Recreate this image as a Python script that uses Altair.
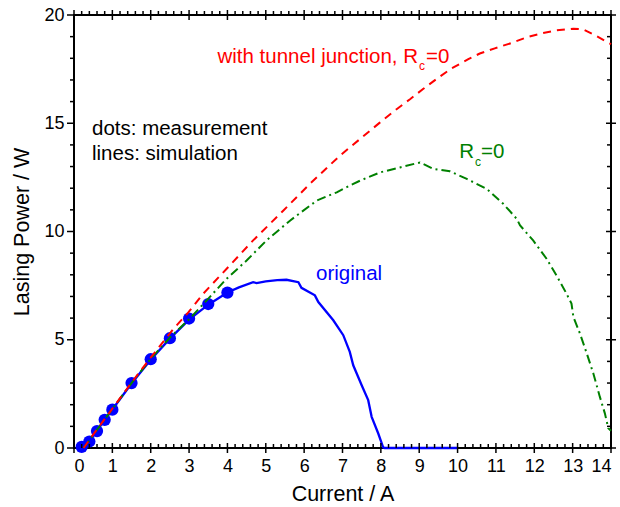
import altair as alt
import pandas as pd
import numpy as np

# ---------------- data ----------------
meas_x = [0.2, 0.4, 0.6, 0.8, 1.0, 1.5, 2.0, 2.5, 3.0, 3.5, 4.0]
meas_y = [0.05, 0.30, 0.78, 1.30, 1.77, 3.00, 4.10, 5.07, 5.98, 6.65, 7.18]

orig_x = [0.18, 0.4, 0.6, 0.8, 1.0, 1.5, 2.0, 2.5, 3.0, 3.5, 4.0, 4.3, 4.67, 4.76,
          5.0, 5.3, 5.54, 5.85, 5.93, 6.28, 6.37, 6.76, 7.02, 7.19, 7.28, 7.5,
          7.67, 7.76, 7.93, 8.06, 8.1, 10.0]
orig_y = [0.0, 0.33, 0.80, 1.30, 1.78, 2.98, 4.08, 5.05, 5.93, 6.62, 7.18, 7.42, 7.66, 7.62,
          7.70, 7.75, 7.77, 7.66, 7.40, 7.05, 6.74, 5.90, 5.21, 4.44, 3.82, 2.90,
          2.21, 1.44, 0.68, 0.03, 0.0, 0.0]

tunnel_x = [0.25, 0.5, 1.0, 1.5, 2.0, 2.59, 2.98, 3.37, 3.98, 4.67, 5.46, 6.15, 6.93,
            7.98, 8.41, 8.76, 9.1, 9.5, 9.85, 10.28, 10.58, 10.97, 11.41, 11.8,
            12.23, 12.58, 13.02, 13.28, 13.62, 13.93, 14.0]
tunnel_y = [0.0, 0.62, 1.82, 3.02, 4.18, 5.50, 6.26, 7.13, 8.28, 9.59, 10.97, 12.2, 13.5,
            15.04, 15.65, 16.11, 16.58, 17.11, 17.54, 17.96, 18.22, 18.46, 18.71, 18.97,
            19.17, 19.29, 19.37, 19.33, 19.03, 18.72, 18.65]

rc_x = [0.25, 0.5, 1.0, 1.5, 2.0, 2.5, 3.02, 3.46, 3.98, 4.5, 5.02, 5.63, 6.33, 6.85,
        7.02, 7.46, 7.98, 8.5, 9.02, 9.37, 9.8, 10.24, 10.76, 11.19, 11.54, 11.63,
        11.97, 12.32, 12.58, 12.84, 12.97, 13.02, 13.19, 13.37, 13.54, 13.71, 13.84,
        13.93, 14.0]
rc_y = [0.0, 0.60, 1.80, 3.00, 4.12, 5.10, 5.98, 6.82, 7.82, 8.66, 9.59, 10.5, 11.43, 11.81,
        11.97, 12.35, 12.73, 12.96, 13.19, 12.89, 12.78, 12.43, 11.97, 11.28, 10.59, 10.28,
        9.59, 8.74, 7.97, 7.13, 6.67, 6.05, 5.29, 4.36, 3.44, 2.36, 1.60,
        0.91, 0.80]

x_major = list(range(0, 15))
x_minor = [round(v, 1) for v in np.arange(0.2, 14.0, 0.2) if abs(v - round(v)) > 1e-6]
y_major = [0, 5, 10, 15, 20]
y_minor = [v for v in range(1, 20) if v % 5]

# ---------------- layout ----------------
W, H = 537, 433
FONT = "Liberation Sans"

X = alt.X("x:Q", scale=alt.Scale(domain=[0, 14], nice=False, zero=False),
          axis=alt.Axis(title="Current / A", values=x_major, ticks=False, domain=False,
                        grid=False, labelPadding=9, titlePadding=8, format="d"))
Y = alt.Y("y:Q", scale=alt.Scale(domain=[0, 20], nice=False, zero=False),
          axis=alt.Axis(title="Lasing Power / W", values=y_major, ticks=False, domain=False,
                        grid=False, labelPadding=10, titlePadding=10, format="d"))

orig_df = pd.DataFrame({"x": orig_x, "y": orig_y})
meas_df = pd.DataFrame({"x": meas_x, "y": meas_y})
tun_df = pd.DataFrame({"x": tunnel_x, "y": tunnel_y})
rc_df = pd.DataFrame({"x": rc_x, "y": rc_y})

blue = "#0000FF"
red = "#FF0000"
green = "#008000"

line_orig = alt.Chart(orig_df).mark_line(color=blue, strokeWidth=2.3).encode(x=X, y=Y)
dots = alt.Chart(meas_df).mark_circle(color=blue, size=150, opacity=1).encode(x=X, y=Y)
line_rc = alt.Chart(rc_df).mark_line(color=green, strokeWidth=2,
                                      strokeDash=[9, 4, 2, 4]).encode(x=X, y=Y)
line_tun = alt.Chart(tun_df).mark_line(color=red, strokeWidth=2,
                                        strokeDash=[8, 6]).encode(x=X, y=Y)

# ---------------- ticks ----------------
xM = pd.DataFrame({"x": x_major})
xm = pd.DataFrame({"x": x_minor})
yM = pd.DataFrame({"y": y_major})
ym = pd.DataFrame({"y": y_minor})
tk = dict(color="black", strokeWidth=1.5)

ticks = [
    alt.Chart(xM).mark_rule(**tk).encode(x=X, y=alt.value(H - 5), y2=alt.value(H + 5)),
    alt.Chart(xm).mark_rule(**tk).encode(x=X, y=alt.value(H - 4), y2=alt.value(H)),
    alt.Chart(xM).mark_rule(**tk).encode(x=X, y=alt.value(-5), y2=alt.value(5)),
    alt.Chart(xm).mark_rule(**tk).encode(x=X, y=alt.value(-4), y2=alt.value(0)),
    alt.Chart(yM).mark_rule(**tk).encode(y=Y, x=alt.value(-7), x2=alt.value(0)),
    alt.Chart(ym).mark_rule(**tk).encode(y=Y, x=alt.value(-4), x2=alt.value(0)),
    alt.Chart(yM).mark_rule(**tk).encode(y=Y, x=alt.value(W - 5), x2=alt.value(W + 5)),
    alt.Chart(ym).mark_rule(**tk).encode(y=Y, x=alt.value(W - 4), x2=alt.value(W)),
]

# ---------------- annotations ----------------
one = pd.DataFrame({"a": [0]})


def txt(s, px, py, color, size=20.5, align="left"):
    return alt.Chart(one).mark_text(text=s, color=color, fontSize=size, font=FONT,
                                    align=align, baseline="alphabetic").encode(
        x=alt.value(px), y=alt.value(py))


texts = [
    txt("with tunnel junction, R", 344, 48, red, align="right"),
    txt("c", 345, 54.5, red, size=12),
    txt("=0", 352, 48, red),
    txt("R", 400, 143, green, align="right"),
    txt("c", 401, 151, green, size=12),
    txt("=0", 407, 143, green),
    txt("original", 242, 265, blue),
    txt("dots: measurement", 18, 120, "black"),
    txt("lines: simulation", 18, 145, "black"),
]

chart = alt.layer(line_orig, dots, line_rc, line_tun, *ticks, *texts).properties(
    width=W, height=H, autosize="none",
    padding={"left": 74, "top": 15, "right": 9, "bottom": 59},
    background="white",
).configure_view(stroke="black", strokeWidth=2).configure_axis(
    labelFont=FONT, titleFont=FONT, labelFontSize=18, titleFontSize=21.5,
    labelColor="black", titleColor="black", titleFontWeight="normal",
)

chart.save("out.html", embed_options={"renderer": "svg", "actions": False})
